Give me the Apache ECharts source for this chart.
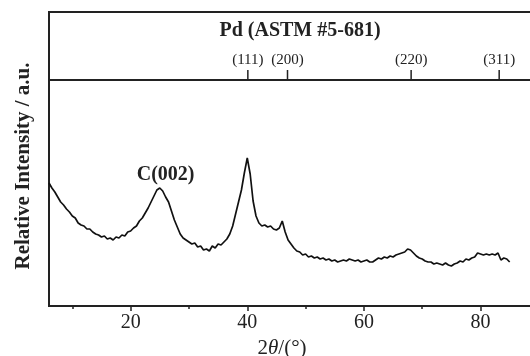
<!DOCTYPE html>
<html>
<head>
<meta charset="utf-8">
<script src="https://cdn.jsdelivr.net/npm/echarts@6/dist/echarts.min.js"></script>
<style>
  html, body { margin: 0; padding: 0; background: #fff; }
  #chart { width: 530px; height: 356px; }
</style>
</head>
<body>
<div id="chart"></div>
<script>
// XRD pattern of the Pd/C sample, 2θ in degrees
const twoTheta = [
  6.0, 6.5, 7.0, 7.5, 8.0, 8.5, 9.0, 9.5, 10.0, 10.5, 11.0, 11.5, 12.0, 12.5, 13.0, 13.5,
  14.0, 14.5, 15.0, 15.5, 16.0, 16.5, 17.0, 17.5, 18.0, 18.5, 19.0, 19.5, 20.0, 20.5, 21.0, 21.5,
  22.0, 22.5, 23.0, 23.5, 24.0, 24.5, 25.0, 25.5, 26.0, 26.5, 27.0, 27.5, 28.0, 28.5, 29.0, 29.5,
  30.0, 30.5, 31.0, 31.5, 32.0, 32.5, 33.0, 33.5, 34.0, 34.5, 35.0, 35.5, 36.0, 36.5, 37.0, 37.5,
  38.0, 38.5, 39.0, 39.5, 40.0, 40.5, 41.0, 41.5, 42.0, 42.5, 43.0, 43.5, 44.0, 44.5, 45.0, 45.5,
  46.0, 46.5, 47.0, 47.5, 48.0, 48.5, 49.0, 49.5, 50.0, 50.5, 51.0, 51.5, 52.0, 52.5, 53.0, 53.5,
  54.0, 54.5, 55.0, 55.5, 56.0, 56.5, 57.0, 57.5, 58.0, 58.5, 59.0, 59.5, 60.0, 60.5, 61.0, 61.5,
  62.0, 62.5, 63.0, 63.5, 64.0, 64.5, 65.0, 65.5, 66.0, 66.5, 67.0, 67.5, 68.0, 68.5, 69.0, 69.5,
  70.0, 70.5, 71.0, 71.5, 72.0, 72.5, 73.0, 73.5, 74.0, 74.5, 75.0, 75.5, 76.0, 76.5, 77.0, 77.5,
  78.0, 78.5, 79.0, 79.5, 80.0, 80.5, 81.0, 81.5, 82.0, 82.5, 83.0, 83.5, 84.0, 84.5, 85.0
];
const intensity = [
  123, 118, 114, 109, 104, 101, 97, 94, 90, 88, 83, 81, 80, 77, 77, 74,
  72, 71, 69, 70, 67, 68, 66, 69, 68, 71, 70, 74, 75, 78, 80, 85,
  88, 93, 98, 104, 110, 116, 118, 115, 109, 104, 95, 86, 79, 72, 68, 66,
  64, 62, 63, 59, 60, 56, 57, 55, 60, 58, 62, 61, 64, 67, 72, 80,
  92, 104, 116, 133, 148, 132, 105, 90, 83, 80, 81, 79, 80, 77, 76, 78,
  85, 74, 66, 62, 58, 55, 54, 51, 52, 49, 50, 48, 49, 47, 48, 46,
  47, 45, 46, 44, 45, 46, 45, 47, 46, 45, 46, 44, 45, 46, 44, 44,
  46, 48, 47, 49, 48, 50, 49, 51, 52, 53, 54, 57, 56, 53, 50, 48,
  47, 45, 44, 44, 42, 43, 42, 41, 43, 41, 40, 42, 43, 45, 44, 47,
  46, 48, 49, 53, 52, 51, 52, 51, 52, 51, 53, 46, 48, 47, 44
];

// Pd reference reflections (ASTM #5-681)
const pdPositions = [40.1, 46.9, 68.1, 83.2];
const pdLabels = ['(111)', '(200)', '(220)', '(311)'];

// axis ticks
const majorTicks = [20, 40, 60, 80];
const minorTicks = [10, 30, 50, 70];

const peakLabel = { x: 24.8, y: 118, text: 'C(002)' };

const serif = 'Liberation Serif';
const ink = '#222';

const chart = echarts.init(document.getElementById('chart'));

const series = twoTheta.map((t, i) => [t, intensity[i]]);

chart.setOption({
  animation: false,
  backgroundColor: '#fff',
  grid: [
    { left: 49, right: -3, top: 12, height: 68, outerBoundsMode: 'none', containLabel: false, show: true, borderColor: ink, borderWidth: 2, backgroundColor: 'transparent' },
    { left: 49, right: -3, top: 80, bottom: 50, outerBoundsMode: 'none', containLabel: false, show: true, borderColor: ink, borderWidth: 2, backgroundColor: 'transparent' }
  ],
  graphic: [
    {
      type: 'text', x: 300, y: 31,
      style: { text: 'Pd (ASTM #5-681)', font: 'bold 20px "Liberation Serif"', fill: ink, textAlign: 'center', textVerticalAlign: 'middle' }
    },
    {
      type: 'text', x: 24, y: 166, rotation: Math.PI / 2,
      style: { text: 'Relative Intensity / a.u.', font: 'bold 21px "Liberation Serif"', fill: ink, textAlign: 'center', textVerticalAlign: 'middle' }
    }
  ],
  xAxis: [
    { gridIndex: 0, type: 'value', min: 6, max: 89, axisLine: { show: false }, axisTick: { show: false }, axisLabel: { show: false }, splitLine: { show: false } },
    {
      gridIndex: 1, type: 'value', min: 6, max: 89,
      name: '2{i|θ}/(°)', nameLocation: 'middle', nameGap: 29,
      nameTextStyle: { fontFamily: serif, fontSize: 21, color: ink, padding: [0, 18, 0, 0], rich: { i: { fontFamily: serif, fontStyle: 'italic', fontSize: 21, color: ink } } },
      axisLine: { show: true, lineStyle: { color: ink, width: 2 } },
      axisTick: { show: true, inside: false, length: 5, customValues: majorTicks, lineStyle: { color: ink, width: 1.5 } },
      axisLabel: { show: true, customValues: majorTicks, fontFamily: serif, fontSize: 20, color: ink, margin: 7 },
      splitLine: { show: false }
    },
    {
      gridIndex: 1, type: 'value', min: 6, max: 89, position: 'bottom', offset: 0,
      axisLine: { show: false },
      axisTick: { show: true, inside: false, length: 3, customValues: minorTicks, lineStyle: { color: ink, width: 1.5 } },
      axisLabel: { show: false, customValues: minorTicks },
      splitLine: { show: false }
    }
  ],
  yAxis: [
    { gridIndex: 0, type: 'value', min: 0, max: 68, axisLine: { show: false }, axisTick: { show: false }, axisLabel: { show: false }, splitLine: { show: false } },
    {
      gridIndex: 1, type: 'value', min: 0, max: 226,
      axisLine: { show: true, lineStyle: { color: ink, width: 2 } },
      axisTick: { show: false }, axisLabel: { show: false }, splitLine: { show: false }
    }
  ],
  series: [
    {
      type: 'custom', xAxisIndex: 0, yAxisIndex: 0,
      data: pdPositions.map((p, i) => [p, i]),
      renderItem: function (params, api) {
        const base = api.coord([api.value(0), 0]);
        const idx = api.value(1);
        return {
          type: 'group',
          children: [
            { type: 'line', shape: { x1: base[0], y1: base[1], x2: base[0], y2: base[1] - 10 }, style: { stroke: ink, lineWidth: 1.5 } },
            { type: 'text', style: { x: base[0], y: base[1] - 20, text: pdLabels[idx], font: '15px "Liberation Serif"', fill: ink, textAlign: 'center', textVerticalAlign: 'middle' } }
          ]
        };
      }
    },
    {
      type: 'line', xAxisIndex: 1, yAxisIndex: 1,
      data: series, showSymbol: false, symbol: 'none',
      lineStyle: { color: '#111', width: 1.7 }
    },
    {
      type: 'scatter', xAxisIndex: 1, yAxisIndex: 1,
      data: [[peakLabel.x, peakLabel.y]], symbolSize: 0,
      itemStyle: { opacity: 1 },
      label: { show: true, position: 'top', distance: 3, offset: [7, 0], formatter: peakLabel.text, fontFamily: serif, fontWeight: 'bold', fontSize: 20, color: ink }
    }
  ]
});
</script>
</body>
</html>
